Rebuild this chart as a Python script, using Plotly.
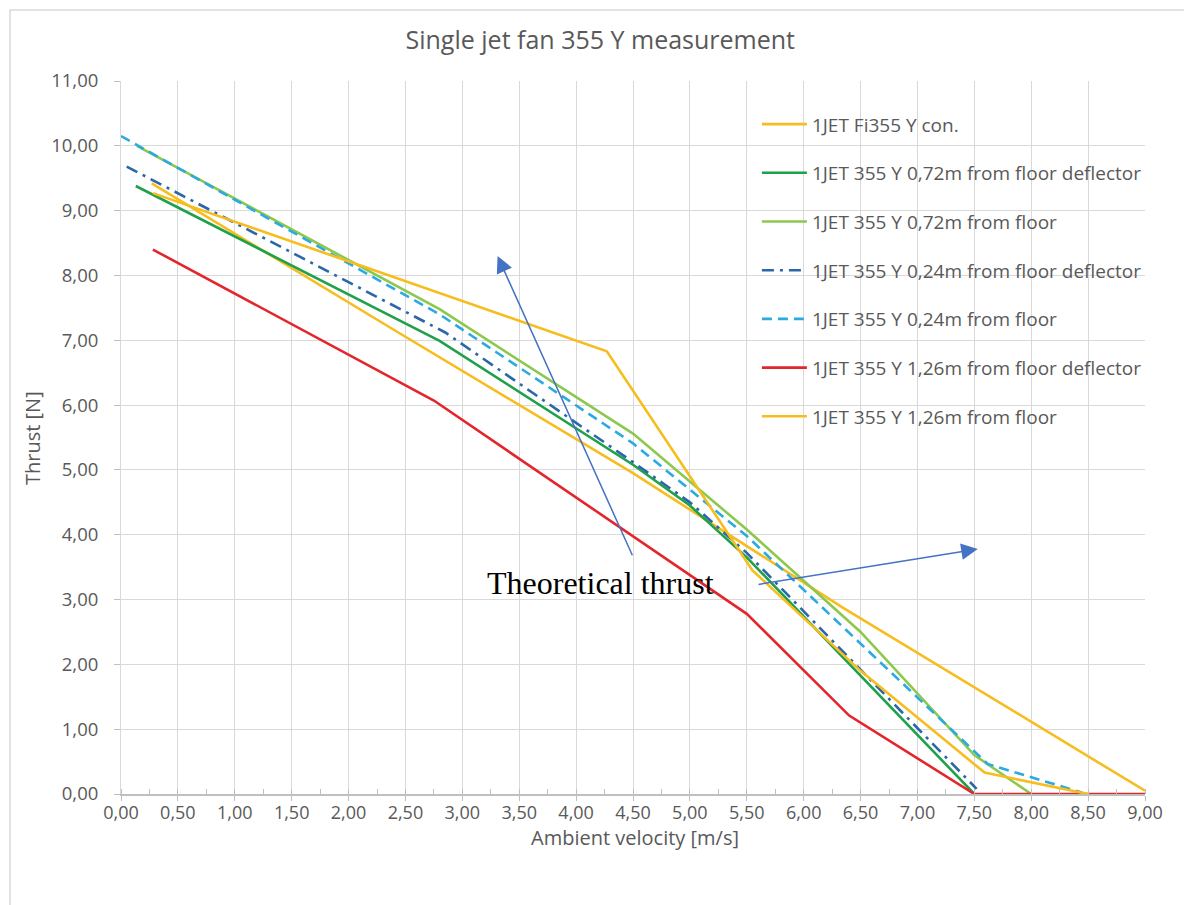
import plotly.graph_objects as go

# ---- data ----
con_x = [0.27, 2.39, 4.50, 6.34, 9.00]
con_y = [9.42, 7.17, 4.95, 2.88, 0.05]

g072d_x = [0.13, 1.00, 2.80, 4.50, 5.00, 5.50, 7.50]
g072d_y = [9.38, 8.60, 6.99, 5.08, 4.45, 3.65, 0.00]

g072_x = [0.14, 2.80, 4.50, 5.50, 6.50, 7.50, 8.00]
g072_y = [10.00, 7.48, 5.56, 4.08, 2.50, 0.60, 0.00]

b024d_x = [0.05, 2.85, 4.50, 5.00, 5.50, 7.52]
b024d_y = [9.68, 7.12, 5.12, 4.50, 3.72, 0.08]

b024_x = [0.00, 2.80, 4.50, 5.50, 7.62, 8.45]
b024_y = [10.15, 7.40, 5.41, 3.98, 0.46, 0.02]

r126d_x = [0.28, 2.75, 5.50, 6.40, 7.50, 9.00]
r126d_y = [8.40, 6.07, 2.78, 1.21, 0.00, 0.00]

o126_x = [0.28, 4.27, 5.55, 6.50, 7.59, 8.50]
o126_y = [9.27, 6.83, 3.45, 1.90, 0.33, 0.00]

names = [
    "1JET Fi355 Y con.",
    "1JET 355 Y 0,72m from floor deflector",
    "1JET 355 Y 0,72m from floor",
    "1JET 355 Y 0,24m from floor deflector",
    "1JET 355 Y 0,24m from floor",
    "1JET 355 Y 1,26m from floor deflector",
    "1JET 355 Y 1,26m from floor",
]
xs = [con_x, g072d_x, g072_x, b024d_x, b024_x, r126d_x, o126_x]
ys = [con_y, g072d_y, g072_y, b024d_y, b024_y, r126d_y, o126_y]
colors = ["#F7BD1E", "#1FA04A", "#8DC84E", "#2A67A8", "#2BA9E1", "#E3262B", "#F7BD1E"]
dashes = ["solid", "solid", "solid", "12px,6px,3px,6px", "10px,6px", "solid", "solid"]

x_ticks = [i * 0.5 for i in range(19)]
y_ticks = list(range(12))

FONT = "Open Sans"
GREY = "#595959"

fig = go.Figure()
for i, (n, x, y, c, d) in enumerate(zip(names, xs, ys, colors, dashes)):
    fig.add_trace(go.Scatter(
        x=x, y=y, name=n, mode="lines", legendgroup=f"g{i}",
        line=dict(color=c, width=2.6, dash=d),
    ))

fig.update_layout(
    width=1184, height=905,
    paper_bgcolor="white", plot_bgcolor="white",
    margin=dict(l=121, r=39, t=81, b=111),
    separators=", ",
    font=dict(family=FONT, color=GREY),
    title=dict(text="Single jet fan 355 Y measurement", x=0.507, xanchor="center",
               y=1 - 40 / 905, yanchor="middle",
               font=dict(family=FONT, size=25, color=GREY)),
    showlegend=True,
    legend=dict(x=0.621, y=0.966, xanchor="left", yanchor="top",
                bgcolor="rgba(0,0,0,0)", tracegroupgap=21, itemwidth=45,
                font=dict(family=FONT, size=19, color=GREY)),
    xaxis=dict(range=[0, 9], tickvals=x_ticks, tickformat=".2f",
               showgrid=True, gridcolor="#D9D9D9", gridwidth=1,
               showline=True, linecolor="#BFBFBF", linewidth=1.5,
               ticks="outside", ticklen=5, tickcolor="#BFBFBF",
               ticklabelstandoff=-3,
               minor=dict(dtick=0.25, ticks="inside", ticklen=5, tickcolor="#BFBFBF", showgrid=False),
               tickfont=dict(family=FONT, size=18, color=GREY),
               zeroline=False),
    yaxis=dict(range=[0, 11], tickvals=y_ticks, tickformat=".2f",
               showgrid=True, gridcolor="#D9D9D9", gridwidth=1,
               showline=True, linecolor="#D9D9D9", linewidth=1,
               ticks="outside", ticklen=6, tickcolor="#BFBFBF",
               ticklabelstandoff=12,
               tickfont=dict(family=FONT, size=18.5, color=GREY),
               zeroline=False),
)

# axis titles
fig.add_annotation(text="Ambient velocity [m/s]", xref="paper", yref="paper",
                   x=0.502, y=(794 - 837) / 713, xanchor="center", yanchor="middle",
                   showarrow=False, font=dict(family=FONT, size=20, color=GREY))
fig.add_annotation(text="Thrust [N]", xref="paper", yref="paper", textangle=-90,
                   x=(32 - 121) / 1024, y=(794 - 438) / 713, xanchor="center", yanchor="middle",
                   showarrow=False, font=dict(family=FONT, size=20, color=GREY))

# chart border
fig.add_shape(type="rect", xref="paper", yref="paper",
              x0=-111 / 1024, x1=1.2, y0=-0.3, y1=(794 - 10) / 713,
              line=dict(color="#D9D9D9", width=1.5), layer="below")

# annotation text and arrows
fig.add_annotation(x=4.21, y=3.26, xref="x", yref="y", text="Theoretical thrust",
                   showarrow=False, font=dict(family="Liberation Serif", size=32, color="black"))
ARROW = "#4472C4"
fig.add_annotation(x=3.31, y=8.30, ax=4.50, ay=3.66, xref="x", yref="y", axref="x", ayref="y",
                   text="", showarrow=True, arrowhead=2, arrowsize=2.2, arrowwidth=1.5, arrowcolor=ARROW)
fig.add_annotation(x=7.53, y=3.78, ax=5.59, ay=3.23, xref="x", yref="y", axref="x", ayref="y",
                   text="", showarrow=True, arrowhead=2, arrowsize=2.2, arrowwidth=1.5, arrowcolor=ARROW)

fig.write_html("out.html")
